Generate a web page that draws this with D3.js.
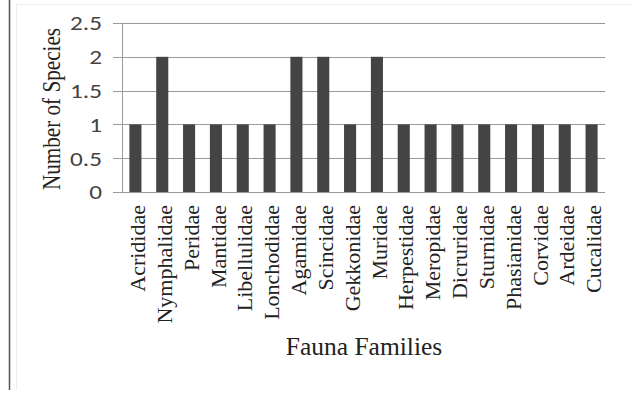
<!DOCTYPE html>
<html><head><meta charset="utf-8">
<script src="https://cdn.jsdelivr.net/npm/d3@7"></script>
<style>body{margin:0;background:#fff}svg{display:block}</style>
</head><body><svg id="c" width="633" height="406"></svg>
<script>
const categories = ["Acrididae","Nymphalidae","Peridae","Mantidae","Libellulidae","Lonchodidae","Agamidae","Scincidae","Gekkonidae","Muridae","Herpestidae","Meropidae","Dicruridae","Sturnidae","Phasianidae","Corvidae","Ardeidae","Cucalidae"];
const values = [1,2,1,1,1,1,2,2,1,2,1,1,1,1,1,1,1,1];
const yTicks = [0,0.5,1,1.5,2,2.5];

const svg = d3.select("#c");
// frame lines
svg.append("line").attr("x1",9.5).attr("x2",9.5).attr("y1",0).attr("y2",390).attr("stroke","#555").attr("stroke-width",1.5);
svg.append("line").attr("x1",16.5).attr("x2",16.5).attr("y1",4).attr("y2",390).attr("stroke","#eee");
svg.append("line").attr("x1",16).attr("x2",633).attr("y1",4.5).attr("y2",4.5).attr("stroke","#eee");

const L=122, R=605, T=23, B=192;
const x = d3.scaleBand().domain(categories).range([L,R]).paddingInner(0.55).paddingOuter(0.275);
const y = d3.scaleLinear().domain([0,2.5]).range([B,T]);

// gridlines
svg.append("g").selectAll("line").data(yTicks).join("line")
  .attr("x1",113).attr("x2",R).attr("y1",d=>Math.round(y(d))+0.5).attr("y2",d=>Math.round(y(d))+0.5)
  .attr("stroke","#9a9a9a").attr("stroke-width",1);
// y axis line
svg.append("line").attr("x1",L+0.5).attr("x2",L+0.5).attr("y1",T).attr("y2",B+0.5).attr("stroke","#9a9a9a");

// bars
svg.append("g").selectAll("rect").data(values).join("rect")
  .attr("x",(d,i)=>x(categories[i])).attr("width",x.bandwidth())
  .attr("y",d=>y(d)).attr("height",d=>B-y(d)).attr("fill","#444");

// y tick labels
svg.append("g").selectAll("text").data(yTicks).join("text")
  .attr("transform",d=>`translate(102,${y(d)}) scale(1.2,1)`)
  .attr("dy","0.35em").attr("text-anchor","end")
  .attr("font-family","Carlito, 'Liberation Sans', sans-serif").attr("font-size",21).attr("fill","#444")
  .text(d=>d);

// x tick labels
svg.append("g").selectAll("text").data(categories).join("text")
  .attr("transform",d=>`translate(${x(d)+x.bandwidth()/2+2},205) rotate(-90)`)
  .attr("dy","0.35em").attr("text-anchor","end")
  .attr("font-family","'Liberation Serif', 'Times New Roman', serif").attr("font-size",22).attr("fill","#222")
  .text(d=>d);

// axis titles
svg.append("text").attr("transform","translate(60,109) scale(1.2,1) rotate(-90)").attr("text-anchor","middle")
  .attr("font-family","'Liberation Serif', 'Times New Roman', serif").attr("font-size",21.5).attr("fill","#222")
  .attr("textLength",162).attr("lengthAdjust","spacingAndGlyphs")
  .text("Number of Species");
svg.append("text").attr("x",364).attr("y",355).attr("text-anchor","middle")
  .attr("font-family","'Liberation Serif', 'Times New Roman', serif").attr("font-size",25.5).attr("fill","#222")
  .text("Fauna Families");
</script></body></html>
